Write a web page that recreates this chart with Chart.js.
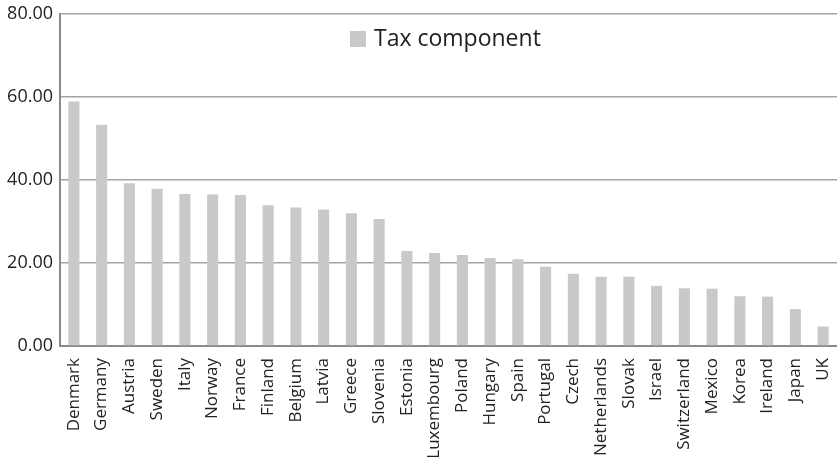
<!DOCTYPE html>
<html>
<head>
<meta charset="utf-8">
<script src="https://cdn.jsdelivr.net/npm/chart.js@4"></script>
<style>
  html, body { margin: 0; padding: 0; background: #fff; }
  #wrap { width: 837px; height: 464px; }
</style>
</head>
<body>
<div id="wrap"><canvas id="chart" width="837" height="464"></canvas></div>
<script>
// pays (ordre du graphique)
const countries = ["Denmark", "Germany", "Austria", "Sweden", "Italy", "Norway", "France",
    "Finland", "Belgium", "Latvia", "Greece", "Slovenia", "Estonia", "Luxembourg", "Poland",
    "Hungary", "Spain", "Portugal", "Czech", "Netherlands", "Slovak", "Israel", "Switzerland",
    "Mexico", "Korea", "Ireland", "Japan", "UK"];

// composante taxe
const taxComponent = [58.9, 53.3, 39.2, 37.9, 36.6, 36.5, 36.4,
    33.9, 33.4, 32.9, 32.0, 30.6, 22.9, 22.4, 21.9,
    21.2, 20.9, 19.1, 17.4, 16.7, 16.7, 14.5, 13.9,
    13.8, 12.0, 11.9, 8.9, 4.7];

const yTicks = [0, 20, 40, 60, 80];

const graph = document.getElementById("chart");

// legende dessinee dans la zone du graphique (en haut)
const insideLegend = {
    id: "insideLegend",
    afterDraw(chart) {
        const ctx = chart.ctx;
        const area = chart.chartArea;
        const ds = chart.data.datasets[0];
        ctx.save();
        ctx.font = "23px 'Open Sans'";
        const box = 16;
        const gap = 8;
        const x0 = area.left + 290;
        const yMid = area.top + 25;
        ctx.fillStyle = ds.backgroundColor;
        ctx.fillRect(x0, yMid - box / 2, box, box);
        ctx.fillStyle = "#222";
        ctx.textBaseline = "middle";
        ctx.fillText(ds.label, x0 + box + gap, yMid);
        ctx.restore();
    },
};

const dataset1 = {
    label: "Tax component",
    data: taxComponent,
    backgroundColor: "#c8c9cb",
    borderWidth: 0,
    categoryPercentage: 1,
    barPercentage: 0.4,
};

const config = {
    type: "bar",
    data: {
        labels: countries,
        datasets: [dataset1],
    },
    options: {
        responsive: false,
        animation: false,
        layout: { padding: { top: 14, right: 0, left: 0, bottom: 0 } },
        plugins: {
            tooltip: { enabled: false },
            legend: { display: false },
        },
        scales: {
            x: {
                grid: { display: false, drawTicks: false },
                border: { color: "#8a8a8a", width: 2 },
                ticks: {
                    color: "#222",
                    font: { family: "Open Sans", size: 17 },
                    maxRotation: 90,
                    minRotation: 90,
                    autoSkip: false,
                    padding: 12,
                },
                afterFit: (scale) => {
                    scale.height = 118;
                    scale.paddingLeft = 0;
                    scale.paddingRight = 0;
                },
            },
            y: {
                min: 0,
                max: 80,
                afterBuildTicks: (scale) => {
                    scale.ticks = yTicks.map((v) => ({ value: v }));
                },
                grid: { color: "#a3a3a3", lineWidth: 1.5, drawTicks: false },
                border: { color: "#8a8a8a", width: 2 },
                ticks: {
                    color: "#222",
                    font: { family: "Open Sans", size: 18 },
                    padding: 7,
                    callback: (v) => Number(v).toFixed(2),
                },
                afterFit: (scale) => {
                    scale.width = 60;
                    scale.paddingTop = 0;
                    scale.paddingBottom = 0;
                },
            },
        },
    },
    plugins: [insideLegend],
};

let myChart = new Chart(graph, config);
</script>
</body>
</html>
